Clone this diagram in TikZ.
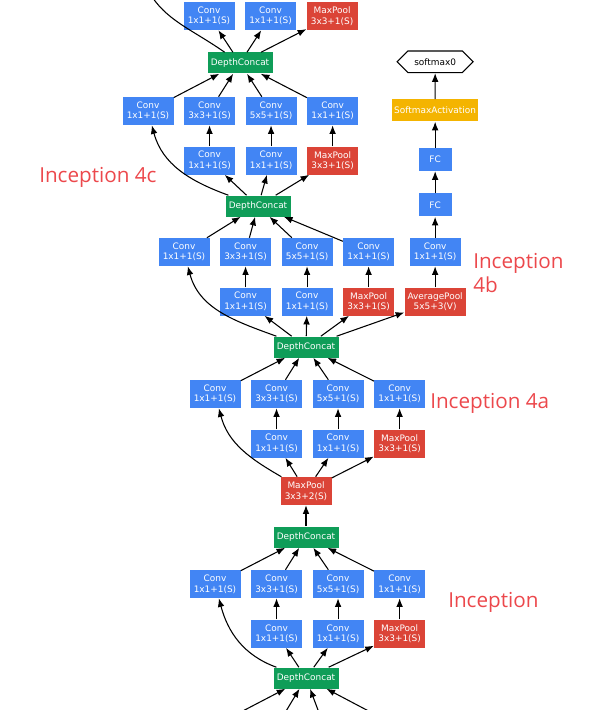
\documentclass[tikz,border=0pt]{standalone}
\usepackage{fontspec}
\setmainfont{DejaVu Sans}
\newfontfamily\labelfont{Open Sans}
\usetikzlibrary{arrows.meta, positioning, shapes.misc}
\definecolor{convblue}{RGB}{66,133,244}
\definecolor{poolred}{RGB}{219,68,55}
\definecolor{concatgreen}{RGB}{15,157,88}
\definecolor{actyellow}{RGB}{244,180,0}
\definecolor{labelred}{RGB}{236,72,76}

\begin{document}
\begin{tikzpicture}[
x=0.75pt, y=0.75pt,
node distance=15.75pt and 7.5pt,
layer/.style={fill=convblue, text=white, align=center, font=\fontsize{6.7}{7.9}\selectfont, minimum width=38.25pt, minimum height=21pt, inner sep=1pt},
conv/.style={layer},
pool/.style={layer, fill=poolred},
concat/.style={layer, fill=concatgreen, minimum width=48.75pt, minimum height=15.75pt},
fc/.style={layer, minimum width=24.75pt, minimum height=17.25pt},
act/.style={layer, fill=actyellow, minimum width=65pt, minimum height=16.5pt},
outbox/.style={draw, line width=0.8pt, chamfered rectangle, chamfered rectangle xsep=6pt, chamfered rectangle ysep=4.5pt, fill=white, font=\fontsize{6.7}{7.9}\selectfont, minimum width=57pt, minimum height=12.75pt, inner sep=1pt},
arrow/.style={-{Latex[length=6.5pt, width=5pt]}, line width=0.8pt},
blocklabel/.style={text=labelred, font=\labelfont\fontsize{15.5}{18}\selectfont, align=left, inner sep=0pt}
]

\clip (0,0) rectangle (613,-710);

% inception 4d (cut off at the top)
\node[concat] (dcA) at (240,-63) {DepthConcat};
\node[conv] (d2) at (209,-16) {Conv\\1x1+1(S)};
\node[conv, right=of d2] (d3) {Conv\\1x1+1(S)};
\node[pool, right=of d3] (d4) {MaxPool\\3x3+1(S)};
\coordinate (d1) at (145,15);

% inception 4c
\node[conv] (c1) at (148,-111) {Conv\\1x1+1(S)};
\node[conv, right=of c1] (c2) {Conv\\3x3+1(S)};
\node[conv, right=of c2] (c3) {Conv\\5x5+1(S)};
\node[conv, right=of c3] (c4) {Conv\\1x1+1(S)};
\node[conv, below=of c2] (c2r) {Conv\\1x1+1(S)};
\node[conv, below=of c3] (c3r) {Conv\\1x1+1(S)};
\node[pool, below=of c4] (c4r) {MaxPool\\3x3+1(S)};
\node[concat] (dcB) at (258,-206) {DepthConcat};

% inception 4b
\node[conv] (b1) at (184,-252) {Conv\\1x1+1(S)};
\node[conv, right=of b1] (b2) {Conv\\3x3+1(S)};
\node[conv, right=of b2] (b3) {Conv\\5x5+1(S)};
\node[conv, right=of b3] (b4) {Conv\\1x1+1(S)};
\node[conv, below=of b2] (b2r) {Conv\\1x1+1(S)};
\node[conv, below=of b3] (b3r) {Conv\\1x1+1(S)};
\node[pool, below=of b4] (b4r) {MaxPool\\3x3+1(S)};
\node[concat] (dcC) at (306,-347) {DepthConcat};

% auxiliary classifier
\node[pool, right=of b4r, minimum width=45.75pt] (avg) {AveragePool\\5x5+3(V)};
\node[conv, above=of avg] (auxconv) {Conv\\1x1+1(S)};
\node[fc, above=of auxconv] (fc1) {FC};
\node[fc, above=16.5pt of fc1] (fc2) {FC};
\node[act, above=19.5pt of fc2] (smact) {SoftmaxActivation};
\node[outbox, above=19.5pt of smact] (sm0) {softmax0};

% inception 4a
\node[conv] (a1) at (215,-394) {Conv\\1x1+1(S)};
\node[conv, right=of a1] (a2) {Conv\\3x3+1(S)};
\node[conv, right=of a2] (a3) {Conv\\5x5+1(S)};
\node[conv, right=of a3] (a4) {Conv\\1x1+1(S)};
\node[conv, below=of a2] (a2r) {Conv\\1x1+1(S)};
\node[conv, below=of a3] (a3r) {Conv\\1x1+1(S)};
\node[pool, below=of a4] (a4r) {MaxPool\\3x3+1(S)};
\node[concat] (dcD) at (306,-537) {DepthConcat};
\node[pool, above=of dcD] (mp) {MaxPool\\3x3+2(S)};

% inception (lower block)
\node[conv] (i1) at (215,-584) {Conv\\1x1+1(S)};
\node[conv, right=of i1] (i2) {Conv\\3x3+1(S)};
\node[conv, right=of i2] (i3) {Conv\\5x5+1(S)};
\node[conv, right=of i3] (i4) {Conv\\1x1+1(S)};
\node[conv, below=of i2] (i2r) {Conv\\1x1+1(S)};
\node[conv, below=of i3] (i3r) {Conv\\1x1+1(S)};
\node[pool, below=of i4] (i4r) {MaxPool\\3x3+1(S)};
\node[concat] (dcE) at (306,-678) {DepthConcat};
\coordinate (e1) at (214,-726);
\coordinate (e2) at (277,-726);
\coordinate (e3) at (324,-726);
\coordinate (e4) at (397,-726);

% labels
\node[blocklabel, anchor=base west] (lab4c) at (39,-182) {Inception 4c};
\node[blocklabel, anchor=base west] (lab4b) at (473,-292) {Inception\\4b};
\node[blocklabel, anchor=base west] (lab4a) at (430,-408) {Inception 4a};
\node[blocklabel, anchor=base west] (lab3) at (448,-607) {Inception};

% lower block
\draw[arrow] (e1) -- (dcE);
\draw[arrow] (e2) -- (dcE);
\draw[arrow] (e3) -- (dcE);
\draw[arrow] (e4) -- (dcE);
\draw[arrow] (dcE) to[out=160, in=-75] (i1);
\draw[arrow] (dcE) -- (i2r);
\draw[arrow] (dcE) -- (i3r);
\draw[arrow] (dcE) -- (i4r);
\draw[arrow] (i2r) -- (i2);
\draw[arrow] (i3r) -- (i3);
\draw[arrow] (i4r) -- (i4);
\draw[arrow] (i1) -- (dcD);
\draw[arrow] (i2) -- (dcD);
\draw[arrow] (i3) -- (dcD);
\draw[arrow] (i4) -- (dcD);
\draw[arrow] (dcD) -- (mp);

% 4a
\draw[arrow] (mp) to[out=150, in=-75] (a1);
\draw[arrow] (mp) -- (a2r);
\draw[arrow] (mp) -- (a3r);
\draw[arrow] (mp) -- (a4r);
\draw[arrow] (a2r) -- (a2);
\draw[arrow] (a3r) -- (a3);
\draw[arrow] (a4r) -- (a4);
\draw[arrow] (a1) -- (dcC);
\draw[arrow] (a2) -- (dcC);
\draw[arrow] (a3) -- (dcC);
\draw[arrow] (a4) -- (dcC);

% 4b and side branch
\draw[arrow] (dcC) to[out=160, in=-75] (b1);
\draw[arrow] (dcC) -- (b2r);
\draw[arrow] (dcC) -- (b3r);
\draw[arrow] (dcC) -- (b4r);
\draw[arrow] (dcC) -- (avg);
\draw[arrow] (b2r) -- (b2);
\draw[arrow] (b3r) -- (b3);
\draw[arrow] (b4r) -- (b4);
\draw[arrow] (avg) -- (auxconv);
\draw[arrow] (auxconv) -- (fc1);
\draw[arrow] (fc1) -- (fc2);
\draw[arrow] (fc2) -- (smact);
\draw[arrow] (smact) -- (sm0);
\draw[arrow] (b1) -- (dcB);
\draw[arrow] (b2) -- (dcB);
\draw[arrow] (b3) -- (dcB);
\draw[arrow] (b4) -- (dcB);

% 4c
\draw[arrow] (dcB) to[out=160, in=-75] (c1);
\draw[arrow] (dcB) -- (c2r);
\draw[arrow] (dcB) -- (c3r);
\draw[arrow] (dcB) -- (c4r);
\draw[arrow] (c2r) -- (c2);
\draw[arrow] (c3r) -- (c3);
\draw[arrow] (c4r) -- (c4);
\draw[arrow] (c1) -- (dcA);
\draw[arrow] (c2) -- (dcA);
\draw[arrow] (c3) -- (dcA);
\draw[arrow] (c4) -- (dcA);

% 4d
\draw[arrow] (dcA) to[out=145, in=-60] (d1);
\draw[arrow] (dcA) -- (d2);
\draw[arrow] (dcA) -- (d3);
\draw[arrow] (dcA) -- (d4);

\end{tikzpicture}
\end{document}
